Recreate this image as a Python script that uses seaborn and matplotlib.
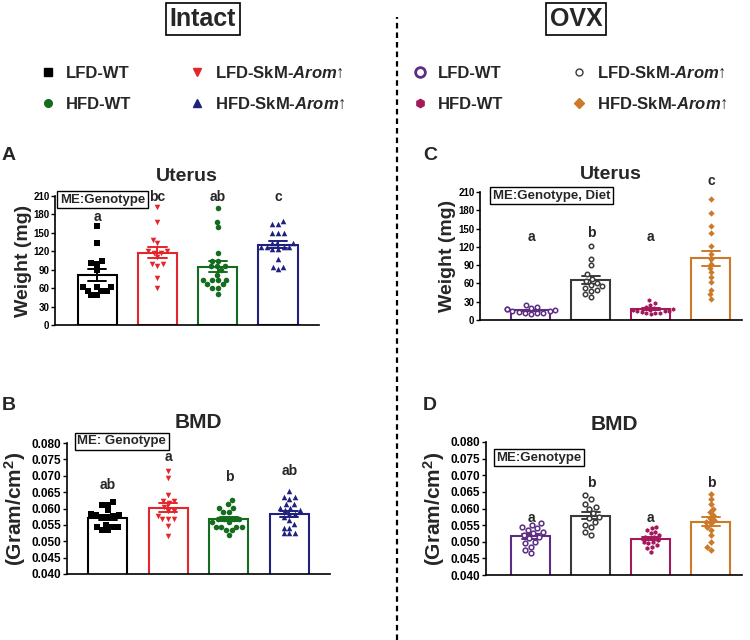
import matplotlib
matplotlib.use('Agg')
import matplotlib.pyplot as plt
from matplotlib.lines import Line2D
from matplotlib.ticker import FormatStrFormatter
import numpy as np
import pandas as pd
import seaborn as sns

groups = ['LFD-WT', 'LFD-SkM', 'HFD-WT', 'HFD-SkM']

# Intact - uterus weight (mg)
int_ut_lfd_wt = [161, 133, 101, 100, 105, 90, 62, 62, 62, 56, 56, 56, 49, 49]
int_ut_lfd_skm = [192, 168, 138, 133, 121, 121, 118, 118, 111, 99, 99, 96, 76, 61]
int_ut_hfd_wt = [191, 168, 159, 117, 105, 105, 96, 96, 96, 89, 82, 73, 73, 73, 73, 66, 66, 61, 61, 50]
int_ut_hfd_skm = [169, 164, 164, 149, 149, 149, 134, 133, 133, 127, 127, 127, 127, 124, 124, 107, 95, 95, 91]

# Intact - BMD (g/cm2)
int_bmd_lfd_wt = [.0619, .0612, .0612, .0594, .0582, .0579, .0579, .0576, .0571, .0573,
                  .0545, .0545, .0545, .0551, .0535, .0535]
int_bmd_lfd_skm = [.0716, .0694, .0642, .0622, .0622, .0616, .0604, .0591, .0591, .0578,
                   .0568, .0568, .0568, .0548, .0517]
int_bmd_hfd_wt = [.0627, .0614, .0602, .0602, .0589, .0589, .0568, .0568, .0568, .0568,
                  .0558, .0558, .0545, .0545, .0545, .0545, .0533, .0533, .0519]
int_bmd_hfd_skm = [.0653, .0635, .0635, .0630, .0614, .0614, .0602, .0602, .0594, .0594,
                   .0584, .0584, .0573, .0565, .0553, .0541, .0541, .0524, .0524, .0524]

# OVX - uterus weight (mg)
ovx_ut_lfd_wt = [25, 22, 20, 18, 18, 16, 15, 14, 13, 12, 12, 11, 10]
ovx_ut_lfd_skm = [122, 100, 90, 75, 68, 64, 60, 58, 55, 52, 50, 48, 42, 38]
ovx_ut_hfd_wt = [32, 28, 25, 22, 20, 18, 17, 16, 15, 14, 14, 13, 12, 12, 11, 10]
ovx_ut_hfd_skm = [198, 175, 155, 143, 122, 108, 100, 92, 85, 78, 70, 62, 50, 42, 35]

# OVX - BMD (g/cm2)
ovx_bmd_lfd_wt = [.0555, .0550, .0545, .0540, .0535, .0530, .0525, .0520, .0515, .0510,
                  .0500, .0495, .0485, .0475, .0465]
ovx_bmd_lfd_skm = [.0640, .0630, .0615, .0605, .0600, .0585, .0575, .0570, .0560, .0550,
                   .0545, .0530, .0520]
ovx_bmd_hfd_wt = [.0545, .0540, .0535, .0530, .0525, .0520, .0515, .0515, .0510, .0505,
                  .0500, .0500, .0495, .0490, .0485, .0480, .0470]
ovx_bmd_hfd_skm = [.0645, .0630, .0615, .0600, .0590, .0580, .0570, .0565, .0560, .0555,
                   .0545, .0535, .0520, .0500, .0485, .0475]

# significance letters
int_ut_letters = ['a', 'bc', 'ab', 'c']
int_bmd_letters = ['ab', 'a', 'b', 'ab']
ovx_ut_letters = ['a', 'b', 'a', 'c']
ovx_bmd_letters = ['a', 'b', 'a', 'b']

ut_ticks = [0, 30, 60, 90, 120, 150, 180, 210]
bmd_ticks = [0.040, 0.045, 0.050, 0.055, 0.060, 0.065, 0.070, 0.075, 0.080]

int_colors = ['#000000', '#e3262b', '#146c1e', '#20207e']
ovx_colors = ['#5c2d82', '#3a3a3a', '#a3195b', '#cc7a29']
int_markers = ['s', 'v', 'o', '^']
ovx_markers = ['o', 'o', 'h', 'D']
int_hollow = [False, False, False, False]
ovx_hollow = [True, True, False, False]

sns.set_style('ticks')
plt.rcParams['font.family'] = ['Liberation Sans', 'DejaVu Sans']
plt.rcParams['font.weight'] = 'bold'
plt.rcParams['axes.labelweight'] = 'bold'
plt.rcParams['axes.titleweight'] = 'bold'
plt.rcParams['mathtext.fontset'] = 'custom'
plt.rcParams['mathtext.rm'] = 'Liberation Sans:bold'
plt.rcParams['mathtext.it'] = 'Liberation Sans:bold:italic'
plt.rcParams['mathtext.bf'] = 'Liberation Sans:bold'

fig = plt.figure(figsize=(7.5, 6.4), dpi=100)


def px_rect(left, right, top, bottom):
    return [left / 750, 1 - bottom / 640, (right - left) / 750, (bottom - top) / 640]


def panel(rect, values, colors, markers, hollow, ylim, ticks, title, ylabel,
          letters, letter_y, me_text, me_pos, xlim, tick_size, label_x, msize,
          title_pad, title_size, label_size, fmt=None):
    ax = fig.add_axes(rect)
    df = pd.DataFrame({
        'group': np.repeat(groups, [len(v) for v in values]),
        'value': np.concatenate(values),
    })
    pal = dict(zip(groups, colors))
    sns.barplot(data=df, x='group', y='value', hue='group', order=groups,
                hue_order=groups, palette=pal, fill=False, width=0.65,
                errorbar='se', capsize=0.3, linewidth=1.5,
                err_kws={'linewidth': 1.4}, legend=False, ax=ax)
    for g, c, m, h in zip(groups, colors, markers, hollow):
        sub = df[df['group'] == g]
        if h:
            sns.swarmplot(data=sub, x='group', y='value', order=groups,
                          color='white', edgecolor=c, linewidth=1.1,
                          marker=m, size=msize, ax=ax, zorder=4)
        else:
            sns.swarmplot(data=sub, x='group', y='value', order=groups,
                          color=c, linewidth=0, marker=m, size=msize,
                          ax=ax, zorder=4)
    ax.set_ylim(*ylim)
    ax.set_xlim(*xlim)
    ax.set_yticks(ticks)
    if fmt:
        ax.yaxis.set_major_formatter(FormatStrFormatter(fmt))
    ax.set_xticks([])
    ax.set_xlabel('')
    ax.set_ylabel(ylabel, fontsize=label_size, fontweight='bold')
    ax.yaxis.set_label_coords(label_x, 0.5)
    ax.tick_params(axis='y', length=3, width=1, pad=1, labelsize=tick_size,
                   colors='black')
    for s in ['left', 'bottom']:
        ax.spines[s].set_linewidth(1.2)
        ax.spines[s].set_color('black')
    sns.despine(ax=ax)
    ax.set_title(title, fontsize=title_size, fontweight='bold', pad=title_pad)
    for i, (t, yv) in enumerate(zip(letters, letter_y)):
        ax.text(i, yv, t, ha='center', va='center', fontsize=10,
                fontweight='bold')
    ax.text(me_pos[0], me_pos[1], me_text, ha='left', va='center',
            fontsize=9.5, fontweight='bold',
            bbox=dict(boxstyle='square,pad=0.2', fc='white', ec='black', lw=1))
    return ax


# A: intact uterus
panel(px_rect(55, 319, 196, 325),
      [int_ut_lfd_wt, int_ut_lfd_skm, int_ut_hfd_wt, int_ut_hfd_skm],
      int_colors, int_markers, int_hollow, (0, 210), ut_ticks, 'Uterus',
      'Weight (mg)', int_ut_letters, [176, 209, 209, 209], 'ME:Genotype',
      (-0.62, 204), (-0.70, 3.68), 7, -0.088, 4, 11, 14, 14)

# B: intact BMD
panel(px_rect(67, 330, 443, 574),
      [int_bmd_lfd_wt, int_bmd_lfd_skm, int_bmd_hfd_wt, int_bmd_hfd_skm],
      int_colors, int_markers, int_hollow, (0.040, 0.080), bmd_ticks, 'BMD',
      '(Gram/cm$^{\\mathrm{2}}$)', int_bmd_letters,
      [0.0672, 0.0757, 0.0696, 0.0715], 'ME: Genotype',
      (-0.50, 0.0805), (-0.67, 3.67), 8.5, -0.150, 4, 10.5, 15, 15, '%.3f')

# C: OVX uterus
panel(px_rect(480, 742, 192, 320),
      [ovx_ut_lfd_wt, ovx_ut_lfd_skm, ovx_ut_hfd_wt, ovx_ut_hfd_skm],
      ovx_colors, ovx_markers, ovx_hollow, (0, 210), ut_ticks, 'Uterus',
      'Weight (mg)', ovx_ut_letters, [136, 143, 136, 228],
      'ME:Genotype, Diet', (-0.64, 204), (-0.85, 3.52), 7, -0.09, 3.2,
      9.5, 14, 14)

# D: OVX BMD
panel(px_rect(486, 742, 442, 575),
      [ovx_bmd_lfd_wt, ovx_bmd_lfd_skm, ovx_bmd_hfd_wt, ovx_bmd_hfd_skm],
      ovx_colors, ovx_markers, ovx_hollow, (0.040, 0.080), bmd_ticks, 'BMD',
      '(Gram/cm$^{\\mathrm{2}}$)', ovx_bmd_letters,
      [0.0571, 0.0677, 0.0571, 0.0677], 'ME:Genotype',
      (-0.58, 0.0753), (-0.75, 3.52), 8.5, -0.152, 3.4, 9, 15, 15, '%.3f')

# group headers
for x, t in [(203, 'Intact'), (576, 'OVX')]:
    fig.text(x / 750, 1 - 19 / 640, t, ha='center', va='center', fontsize=18,
             fontweight='bold',
             bbox=dict(boxstyle='square,pad=0.15', fc='white', ec='black', lw=1.2))

# panel letters
for x, y, t in [(2, 155, 'A'), (2, 406, 'B'), (423, 155, 'C'), (423, 406, 'D')]:
    fig.text(x / 750, 1 - y / 640, t, ha='left', va='center', fontsize=14,
             fontweight='bold')

# dashed separator
fig.add_artist(Line2D([397 / 750, 397 / 750], [0, 1 - 17 / 640],
                      transform=fig.transFigure, color='black', lw=1.6,
                      ls=(0, (2.5, 1.8))))


def handle(color, marker, size, hollow=False, mew=1.0):
    return Line2D([], [], linestyle='none', marker=marker, markersize=size,
                  markerfacecolor='white' if hollow else color,
                  markeredgecolor=color, markeredgewidth=mew)


labels = ['LFD-WT', 'HFD-WT', 'LFD-SkM-$Arom$\u2191', 'HFD-SkM-$Arom$\u2191']

int_handles = [handle(int_colors[0], 's', 5.5), handle(int_colors[2], 'o', 5.5),
               handle(int_colors[1], 'v', 6), handle(int_colors[3], '^', 6)]
ovx_handles = [handle(ovx_colors[0], 'o', 7, True, 2.0), handle(ovx_colors[2], 'h', 6),
               handle(ovx_colors[1], 'o', 5, True, 1.0), handle(ovx_colors[3], 'D', 5)]

for hs, left, cs in [(int_handles, 39.7, 3.4), (ovx_handles, 411.7, 4.0)]:
    fig.legend(hs, labels, ncol=2, loc='upper left',
               bbox_to_anchor=(left / 750, 1 - 66 / 640), frameon=False,
               handlelength=1.0, handletextpad=0.6,
               columnspacing=cs, labelspacing=0.96, borderpad=0,
               borderaxespad=0, prop={'weight': 'bold', 'size': 12})

fig.savefig('out.png', dpi=100)
